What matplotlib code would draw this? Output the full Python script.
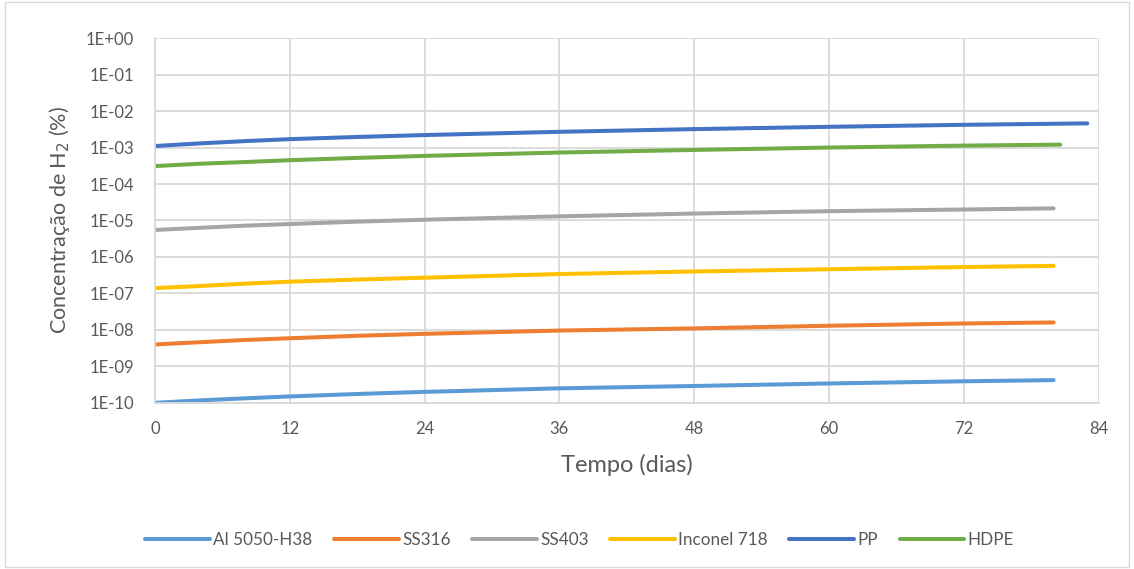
import numpy as np
import matplotlib.pyplot as plt
from matplotlib.patches import Rectangle

plt.rcParams['font.family'] = ['Lato', 'DejaVu Sans']

t = [0, 4, 8, 12, 18, 24, 36, 48, 60, 72, 80]
t_pp = [0, 4, 8, 12, 18, 24, 36, 48, 60, 72, 83]
t_hdpe = [0, 4, 8, 12, 18, 24, 36, 48, 60, 72, 80.6]

al5050 = [1.0e-10, 1.17e-10, 1.33e-10, 1.5e-10, 1.75e-10, 2.0e-10, 2.5e-10, 2.9e-10, 3.4e-10, 3.9e-10, 4.2e-10]
ss316 = [4.0e-9, 4.6e-9, 5.3e-9, 5.9e-9, 6.9e-9, 7.8e-9, 9.6e-9, 1.1e-8, 1.3e-8, 1.5e-8, 1.6e-8]
ss403 = [5.5e-6, 6.3e-6, 7.2e-6, 8.0e-6, 9.3e-6, 1.05e-5, 1.3e-5, 1.55e-5, 1.8e-5, 2.0e-5, 2.15e-5]
inconel = [1.4e-7, 1.6e-7, 1.85e-7, 2.1e-7, 2.4e-7, 2.7e-7, 3.4e-7, 4.0e-7, 4.6e-7, 5.3e-7, 5.7e-7]
pp = [1.1e-3, 1.3e-3, 1.5e-3, 1.7e-3, 1.95e-3, 2.2e-3, 2.7e-3, 3.2e-3, 3.7e-3, 4.2e-3, 4.6e-3]
hdpe = [3.1e-4, 3.6e-4, 4.0e-4, 4.5e-4, 5.2e-4, 5.9e-4, 7.3e-4, 8.6e-4, 1.0e-3, 1.13e-3, 1.2e-3]

series = [
    ('Al 5050-H38', t, al5050, '#5B9BD5'),
    ('SS316', t, ss316, '#ED7D31'),
    ('SS403', t, ss403, '#A5A5A5'),
    ('Inconel 718', t, inconel, '#FFC000'),
    ('PP', t_pp, pp, '#4472C4'),
    ('HDPE', t_hdpe, hdpe, '#70AD47'),
]

fig = plt.figure(figsize=(11.34, 5.69), dpi=100)
ax = fig.add_axes([0.1367, 0.292, 0.832, 0.641])

for name, x, y, c in series:
    ax.plot(x, y, color=c, lw=2.9, solid_capstyle='round', label=name)

ax.set_yscale('log')
ax.set_ylim(1e-10, 1)
ax.set_xlim(0, 84)
ax.set_xticks(np.arange(0, 85, 12))
yt = [10.0 ** k for k in range(-10, 1)]
ax.set_yticks(yt)
ax.set_yticklabels(['1E+00' if k == 0 else '1E-%02d' % -k for k in range(-10, 1)])
ax.yaxis.set_minor_locator(plt.NullLocator())

ax.grid(True, color='#d9d9d9', lw=1.3)
ax.set_axisbelow(True)
for s in ['top', 'right']:
    ax.spines[s].set_visible(False)
for s in ['left', 'bottom']:
    ax.spines[s].set_color('#d9d9d9')
    ax.spines[s].set_linewidth(1.3)
ax.tick_params(length=0, labelsize=12, colors='#595959')
ax.tick_params(axis='y', pad=15)
ax.tick_params(axis='x', pad=13)

ax.set_xlabel('Tempo (dias)', fontsize=17, color='#595959', labelpad=12)
ax.set_ylabel('Concentração de H$_2$ (%)', fontsize=15.5, color='#595959', labelpad=10)

fig.legend(loc='center', bbox_to_anchor=(0.511, 0.051), ncol=6, frameon=False,
           fontsize=12.3, handlelength=3.8, columnspacing=1.25, handletextpad=0.2,
           labelcolor='#595959')

fig.patches.append(Rectangle((0.004, 0.004), 0.992, 0.992, transform=fig.transFigure,
                             fill=False, edgecolor='#d9d9d9', lw=1))

fig.savefig('out.png', dpi=100)
